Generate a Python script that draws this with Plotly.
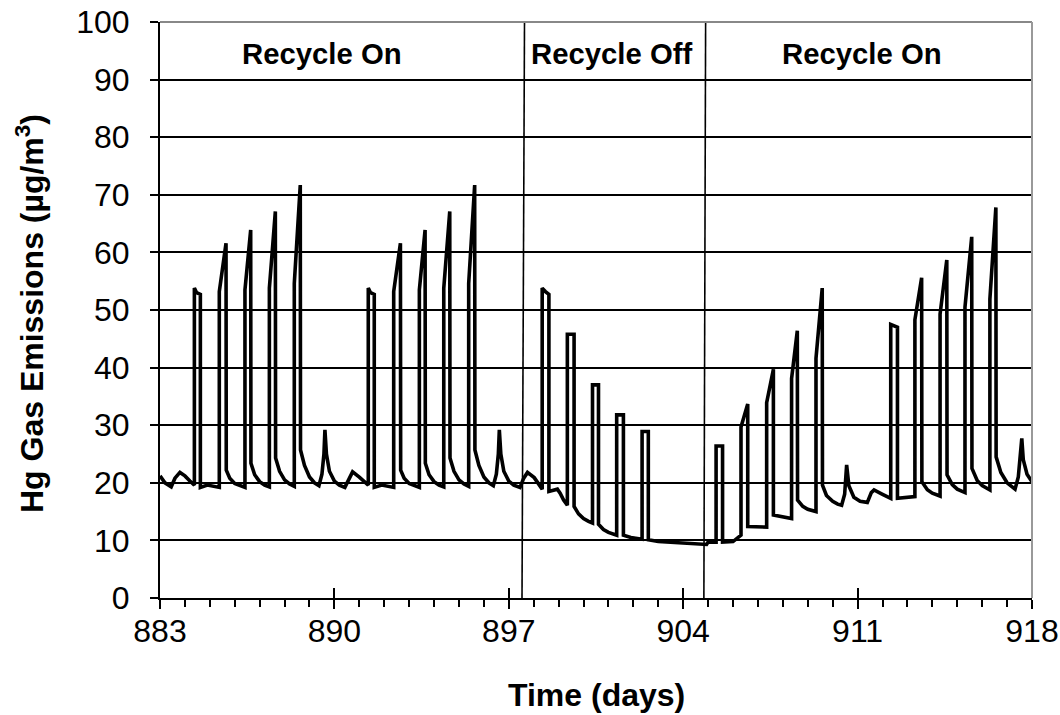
import plotly.graph_objects as go

# ---- data ----
days = [
    883.0, 883.2, 883.45, 883.6, 883.8, 884.0, 884.2, 884.38,
    884.38, 884.47, 884.62, 884.62, 884.9, 885.38,
    885.38, 885.65, 885.66, 885.8, 886.0, 886.2, 886.41,
    886.41, 886.64, 886.65, 886.8, 887.0, 887.2, 887.39,
    887.39, 887.63, 887.64, 887.8, 888.0, 888.2, 888.39,
    888.39, 888.63, 888.64, 888.8, 889.0, 889.2, 889.38,
    889.5, 889.58, 889.62, 889.68, 889.8, 890.0, 890.2, 890.42,
    890.6, 890.73, 891.0, 891.2, 891.36,
    891.36, 891.45, 891.6, 891.6, 891.9, 892.38,
    892.38, 892.65, 892.66, 892.8, 893.0, 893.2, 893.41,
    893.41, 893.64, 893.65, 893.8, 894.0, 894.2, 894.39,
    894.39, 894.63, 894.64, 894.8, 895.0, 895.2, 895.39,
    895.39, 895.63, 895.64, 895.8, 896.0, 896.2, 896.38,
    896.5, 896.58, 896.62, 896.68, 896.8, 897.0, 897.2, 897.45,
    897.6, 897.75, 897.9, 898.02, 898.34,
    898.34, 898.47, 898.61, 898.61, 898.95, 899.06, 899.2, 899.35,
    899.35, 899.62, 899.62, 899.8, 900.0, 900.2, 900.36,
    900.36, 900.6, 900.6, 900.8, 901.0, 901.33,
    901.33, 901.6, 901.6, 901.9, 902.35,
    902.35, 902.6, 902.6, 903.0, 903.6, 904.3, 904.94, 905.0, 905.32,
    905.32, 905.58, 905.58, 906.0, 906.32,
    906.32, 906.59, 906.59, 907.35,
    907.35, 907.62, 907.62, 908.35,
    908.35, 908.58, 908.59, 908.8, 909.0, 909.33,
    909.33, 909.58, 909.59, 909.75, 910.0, 910.2, 910.36,
    910.48, 910.56, 910.65, 910.85, 911.1, 911.39,
    911.55, 911.66, 912.0, 912.33,
    912.33, 912.45, 912.6, 912.6, 913.3,
    913.3, 913.57, 913.58, 913.8, 914.0, 914.31,
    914.31, 914.58, 914.59, 914.8, 915.0, 915.31,
    915.31, 915.58, 915.59, 915.8, 916.0, 916.31,
    916.31, 916.55, 916.56, 916.75, 917.0, 917.32,
    917.45, 917.59, 917.65, 917.8, 918.0,
]
hg = [
    21.2, 20.0, 19.3, 20.8, 21.8, 21.2, 20.3, 19.6,
    53.8, 53.0, 52.7, 19.2, 19.6, 19.2,
    53.2, 61.6, 22.2, 20.8, 19.9, 19.5, 19.2,
    53.5, 63.9, 23.4, 21.4, 20.2, 19.6, 19.3,
    53.8, 67.1, 24.3, 22.0, 20.5, 19.8, 19.4,
    54.6, 71.7, 25.7, 23.0, 21.0, 20.0, 19.5,
    21.5, 25.0, 29.2, 25.0, 22.0, 20.3, 19.6, 19.2,
    20.8, 21.9, 21.0, 20.2, 19.6,
    53.8, 53.0, 52.7, 19.2, 19.6, 19.2,
    53.2, 61.6, 22.2, 20.8, 19.9, 19.5, 19.2,
    53.5, 63.9, 23.4, 21.4, 20.2, 19.6, 19.3,
    53.8, 67.1, 24.3, 22.0, 20.5, 19.8, 19.4,
    54.6, 71.7, 25.7, 23.0, 21.0, 20.0, 19.5,
    21.5, 25.0, 29.2, 25.0, 22.0, 20.3, 19.6, 19.2,
    20.8, 21.8, 21.3, 20.9, 18.9,
    53.8, 53.2, 52.7, 18.5, 18.9, 18.2, 17.0, 16.1,
    45.8, 45.8, 15.9, 14.6, 13.8, 13.3, 13.0,
    37.0, 37.0, 12.8, 11.9, 11.4, 10.9,
    31.8, 31.8, 10.9, 10.5, 10.2,
    28.9, 28.9, 10.1, 9.8, 9.6, 9.4, 9.3, 9.7, 9.7,
    26.4, 26.4, 9.7, 9.8, 10.9,
    29.7, 33.7, 12.4, 12.3,
    33.9, 39.7, 14.4, 13.8,
    38.1, 46.4, 17.0, 15.9, 15.4, 15.0,
    41.6, 53.8, 19.6, 17.8, 16.8, 16.3, 16.1,
    18.0, 23.1, 19.5, 17.5, 16.8, 16.6,
    18.3, 18.75, 18.0, 17.3,
    47.5, 47.2, 47.0, 17.3, 17.6,
    48.3, 55.6, 20.2, 18.8, 18.2, 17.7,
    49.3, 58.7, 21.4, 19.7, 18.9, 18.3,
    50.5, 62.7, 22.5, 20.4, 19.5, 18.75,
    51.9, 67.8, 24.5, 21.8, 20.0, 18.9,
    21.0, 27.7, 24.0, 21.5, 20.2,
]

x_ticks = [883, 890, 897, 904, 911, 918]
phase_labels = ["Recycle On", "Recycle Off", "Recycle On"]
phase_label_x = [889.5, 901.14, 911.18]
phase_label_y = 94.6
# separators (top x, bottom x)
sep_top = [897.63, 904.9]
sep_bottom = [897.53, 904.83]

FONT = "Liberation Sans, Arial, sans-serif"

fig = go.Figure()
fig.add_trace(go.Scatter(
    x=days, y=hg, mode="lines",
    line=dict(color="black", width=3.6, shape="linear"),
    showlegend=False, hoverinfo="skip",
))
# transparent trace to activate the overlay axis (crossing major ticks)
fig.add_trace(go.Scatter(x=[883, 918], y=[0, 0], mode="markers",
                         marker=dict(size=1, opacity=0), xaxis="x2", showlegend=False,
                         hoverinfo="skip"))

shapes = []
for t, b in zip(sep_top, sep_bottom):
    shapes.append(dict(type="line", xref="x", yref="y", x0=t, y0=100, x1=b, y1=0,
                       line=dict(color="black", width=1.6)))
# grey top and right borders
shapes.append(dict(type="line", xref="paper", yref="paper", x0=0, y0=1, x1=1, y1=1,
                   line=dict(color="#888888", width=2)))
shapes.append(dict(type="line", xref="paper", yref="paper", x0=1, y0=0, x1=1, y1=1,
                   line=dict(color="#999999", width=2)))

annotations = []
for lab, lx in zip(phase_labels, phase_label_x):
    annotations.append(dict(x=lx, y=phase_label_y, xref="x", yref="y", text="<b>%s</b>" % lab,
                            showarrow=False, font=dict(family=FONT, size=29.3, color="black")))
annotations.append(dict(x=(30 - 160) / 872, y=0.493, xref="paper", yref="paper",
                        text="<b>Hg Gas Emissions (µg/m<sup>3</sup>)</b>", textangle=-90,
                        showarrow=False, xanchor="center", yanchor="middle",
                        font=dict(family=FONT, size=32, color="black")))
annotations.append(dict(x=0.5, y=(598 - 695) / 576, xref="paper", yref="paper",
                        text="<b>Time (days)</b>", showarrow=False,
                        xanchor="center", yanchor="middle",
                        font=dict(family=FONT, size=32, color="black")))

fig.update_layout(
    width=1060, height=715,
    margin=dict(l=160, r=28, t=22, b=117, autoexpand=False),
    paper_bgcolor="white", plot_bgcolor="white",
    font=dict(family=FONT, size=32, color="black"),
    shapes=shapes, annotations=annotations,
    xaxis=dict(range=[883, 918], tickvals=x_ticks, ticktext=[str(v) for v in x_ticks],
               automargin=False, ticklabeloverflow="allow",
               showgrid=False, zeroline=False, showline=True, linecolor="black", linewidth=2,
               ticks="outside", ticklen=9, tickwidth=2, tickcolor="black",
               minor=dict(dtick=1, tick0=883, ticks="outside", ticklen=7, tickwidth=1.5,
                          tickcolor="black", showgrid=False),
               tickfont=dict(family=FONT, size=32), ticklabelstandoff=-5),
    xaxis2=dict(range=[883, 918], overlaying="x", side="bottom", tickvals=x_ticks,
                automargin=False,
                showticklabels=False, showgrid=False, zeroline=False, showline=False,
                ticks="inside", ticklen=10, tickwidth=2, tickcolor="black"),
    yaxis=dict(range=[0, 100], dtick=10, showgrid=True, gridcolor="black", gridwidth=2,
               automargin=False, ticklabeloverflow="allow",
               zeroline=False, showline=True, linecolor="black", linewidth=2,
               ticks="outside", ticklen=8, tickwidth=1.5, tickcolor="black",
               tickfont=dict(family=FONT, size=32), ticklabelstandoff=14),
)

# remove the page's default 8px body margin so the figure fills the 1060x715 window
fig.write_html("out.html", config={"displayModeBar": False},
               post_script="document.body.style.margin='0';document.body.style.overflow='hidden';")
